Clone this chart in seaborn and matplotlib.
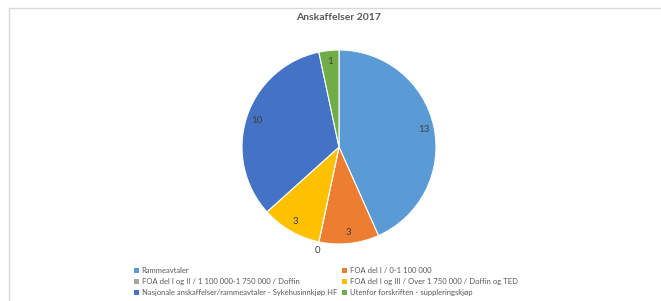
import matplotlib
matplotlib.use('Agg')
import matplotlib.pyplot as plt
import seaborn as sns
from matplotlib.lines import Line2D
from matplotlib.patches import Patch

sns.set_theme(style='white')
plt.rcParams['font.family'] = ['Lato', 'DejaVu Sans']

categories = [
    'Rammeavtaler',
    'FOA del I / 0-1 100 000',
    'FOA del I og II / 1 100 000-1 750 000 / Doffin',
    'FOA del I og III / Over 1 750 000 / Doffin og TED',
    'Nasjonale anskaffelser/rammeavtaler - Sykehusinnkjøp HF',
    'Utenfor forskriften - suppleringskjøp',
]
counts = [13, 3, 0, 3, 10, 1]
colors = ['#5B9BD5', '#ED7D31', '#A5A5A5', '#FFC000', '#4472C4', '#70AD47']
title = 'Anskaffelser 2017'

total = sum(counts)
W, H = 661, 301
fig = plt.figure(figsize=(W / 100, H / 100), dpi=100)
fig.patch.set_facecolor('white')

# pie axes: centre ~ (339,147) px, radius ~97 px
cx, cy, r = 339, 147, 97
ax = fig.add_axes([(cx - r) / W, 1 - (cy + r) / H, 2 * r / W, 2 * r / H])
wedges, texts, autotexts = ax.pie(
    counts, colors=colors, startangle=90, counterclock=False,
    autopct=lambda p: f'{round(p * total / 100):d}', pctdistance=0.89,
    wedgeprops={'edgecolor': 'white', 'linewidth': 0.8},
    textprops={'fontsize': 7, 'color': '#404040'})
for t, v in zip(autotexts, counts):
    if v == 0:
        x, y = t.get_position()
        t.set_position((x * 1.22, y * 1.22))
ax.set_xlim(-1, 1)
ax.set_ylim(-1, 1)
ax.set_aspect('equal')
ax.axis('off')

fig.text(cx / W, 1 - 18 / H, title, ha='center', va='center',
         fontsize=7.5, fontweight='bold', color='#595959')

# legend, row-wise order in two columns
handles = [Patch(facecolor=c, edgecolor='none') for c in colors]
order = [0, 2, 4, 1, 3, 5]
leg = fig.legend([handles[i] for i in order], [categories[i] for i in order],
                 ncol=2, loc='upper left', bbox_to_anchor=(134 / W, 1 - 267 / H),
                 frameon=False, fontsize=5.5, handlelength=0.6, handleheight=0.6,
                 handletextpad=0.4, columnspacing=0.7, labelspacing=0.55,
                 borderaxespad=0, borderpad=0)
for t in leg.get_texts():
    t.set_color('#595959')

# light frame of the chart area
fig.add_artist(Line2D([9 / W, 1], [1 - 8 / H, 1 - 8 / H], color='#D9D9D9', lw=1))
fig.add_artist(Line2D([9 / W, 9 / W], [0, 1 - 8 / H], color='#D9D9D9', lw=1))

fig.savefig('out.png', dpi=100, facecolor='white')
